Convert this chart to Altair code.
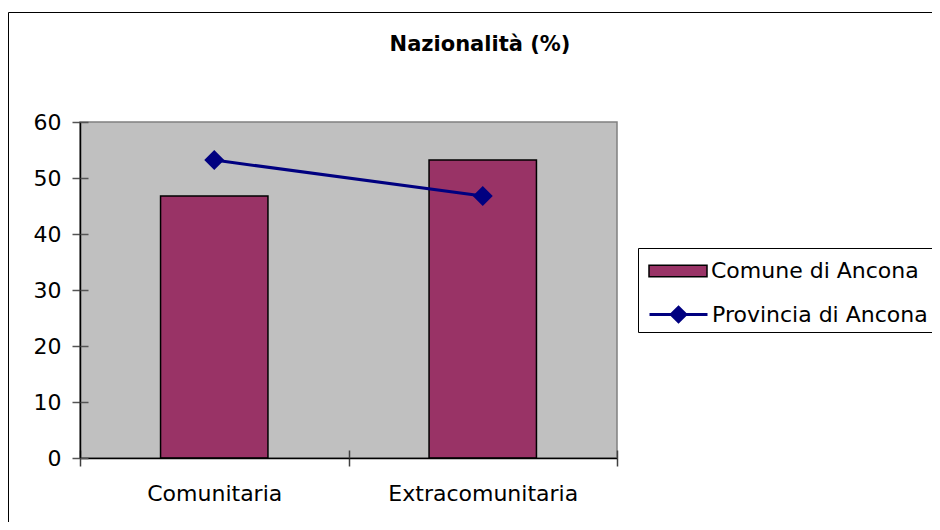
import altair as alt
import pandas as pd

# ---- data ----
categories = ["Comunitaria", "Extracomunitaria"]
comune = [46.8, 53.2]
provincia = [53.2, 46.8]
series = ["Comune di Ancona", "Provincia di Ancona"]
title_text = "Nazionalità (%)"
y_ticks = [0, 10, 20, 30, 40, 50, 60]

df_bar = pd.DataFrame({"cat": categories, "val": comune, "serie": series[0]})
df_line = pd.DataFrame({"cat": categories, "val": provincia, "serie": series[1]})

FONT = "DejaVu Sans"
FS = 22
BAR = "#993366"
LINE = "#000080"

x_scale = alt.Scale(domain=categories, paddingInner=0, paddingOuter=0)
y_scale = alt.Scale(domain=[0, 60], nice=False)

x_main = alt.X("cat:N", scale=x_scale, sort=categories, title=None,
               axis=alt.Axis(orient="bottom", labelAngle=0, tickBand="extent", tickSize=8,
                             labelPadding=17, labelFont=FONT, labelFontSize=FS, labelLimit=400,
                             labelColor="black", domainColor="black", tickColor="#404040",
                             domainWidth=1.5, tickWidth=1.5, grid=False, zindex=1))
y_main = alt.Y("val:Q", scale=y_scale, title=None,
               axis=alt.Axis(orient="left", values=y_ticks, tickSize=8, labelPadding=11,
                             labelFont=FONT, labelFontSize=FS, labelColor="black",
                             domainColor="black", tickColor="#555555", domainWidth=1.5,
                             tickWidth=1.5, grid=False, zindex=1))
x_inner = alt.X("cat:N", scale=x_scale, sort=categories, title=None,
                axis=alt.Axis(orient="bottom", tickBand="extent", tickSize=8, offset=-8,
                              labels=False, domain=False, tickColor="#404040", tickWidth=1.5,
                              grid=False, zindex=1))
y_inner = alt.Y("val:Q", scale=y_scale, title=None,
                axis=alt.Axis(orient="left", values=y_ticks, tickSize=8, offset=-8,
                              labels=False, domain=False, tickColor="#555555", tickWidth=1.5,
                              grid=False, zindex=1))

one = pd.DataFrame({"t": [title_text]})

frame = alt.Chart(one).mark_rect(fill="transparent", stroke="black", strokeWidth=1).encode(
    x=alt.value(-71.5), x2=alt.value(900), y=alt.value(-109.5), y2=alt.value(500))

legend_box = alt.Chart(one).mark_rect(fill="white", stroke="black", strokeWidth=1).encode(
    x=alt.value(558.5), x2=alt.value(900), y=alt.value(126.5), y2=alt.value(210.5))

bars = alt.Chart(df_bar).mark_bar(width=alt.RelativeBandSize(0.4), stroke="black",
                                  strokeWidth=1.5).encode(
    x=x_main, y=y_main,
    fill=alt.Fill("serie:N", scale=alt.Scale(domain=[series[0]], range=[BAR]),
                  legend=alt.Legend(title=None, orient="none", legendX=568, legendY=119,
                                    symbolType="M-1,-0.2H1V0.2H-1Z", symbolSize=3364,
                                    symbolStrokeColor="black", symbolStrokeWidth=1.5,
                                    labelFont=FONT, labelFontSize=FS, labelColor="black",
                                    labelOffset=3, labelLimit=400, padding=0)))

line = alt.Chart(df_line).mark_line(strokeWidth=3).encode(
    x=alt.X("cat:N", scale=x_scale, sort=categories, axis=None),
    y=alt.Y("val:Q", scale=y_scale, axis=None),
    stroke=alt.Stroke("serie:N", scale=alt.Scale(domain=[series[1]], range=[LINE]),
                      legend=alt.Legend(title=None, orient="none", legendX=568, legendY=162,
                                        symbolType="M-1,0H1M0,-0.25L0.25,0L0,0.25L-0.25,0Z",
                                        symbolSize=3364, symbolStrokeWidth=3,
                                        symbolFillColor=LINE,
                                        labelFont=FONT, labelFontSize=FS, labelColor="black",
                                        labelOffset=3, labelLimit=400, padding=0)))

points = alt.Chart(df_line).mark_point(shape="diamond", filled=True, size=400, color=LINE,
                                       opacity=1).encode(x=x_inner, y=y_inner)

title = alt.Chart(one).mark_text(font=FONT, fontSize=21, fontWeight="bold", align="center",
                                 baseline="middle", color="black").encode(
    text="t:N", x=alt.value(400), y=alt.value(-77))

chart = alt.layer(frame, legend_box, bars, line, points, title).resolve_axis(
    x="independent", y="independent"
).properties(
    width=537, height=336,
    autosize=alt.AutoSizeParams(type="none"),
    padding={"left": 72, "top": 114, "right": 315, "bottom": 64},
    background="white",
).configure_view(fill="#C0C0C0", stroke="#808080", strokeWidth=1.5)

chart.save("out.html", embed_options={"renderer": "svg", "actions": False})
